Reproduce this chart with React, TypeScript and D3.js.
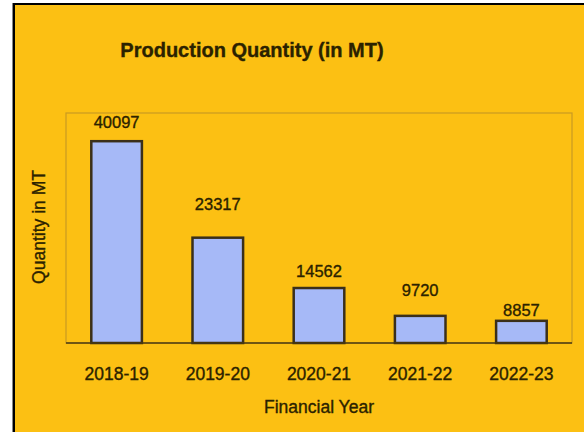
import React from "react";
import * as d3 from "d3";

const categories = ["2018-19", "2019-20", "2020-21", "2021-22", "2022-23"];
const values = [40097, 23317, 14562, 9720, 8857];
const title = "Production Quantity (in MT)";
const xTitle = "Financial Year";
const yTitle = "Quantity in MT";

const W = 584;
const H = 432;
const plot = { left: 66, right: 572, top: 113, bottom: 343 };
// vertical distance (px) from bar top to label centre, as drawn in the reference
const labelLift = [19, 33, 17, 26, 11];

export default function App() {
  const x = d3
    .scaleBand<string>()
    .domain(categories)
    .range([plot.left, plot.right])
    .paddingInner(0.5)
    .paddingOuter(0.25);
  const y = d3.scaleLinear().domain([5000, 45000]).range([plot.bottom, plot.top]);
  const font = "'Liberation Sans', Arial, sans-serif";
  const ink = "#2b2200";
  const textProps = {
    fontFamily: font,
    fill: ink,
    stroke: ink,
    strokeWidth: 0.35,
  };
  return (
    <svg
      width={W}
      height={H}
      style={{ position: "absolute", left: 0, top: 0, display: "block" }}
    >
      <rect x={0} y={0} width={W} height={H} fill="#ffffff" />
      <rect x={14} y={4} width={W - 14} height={H - 4} fill="#fcc013" />
      <line x1={12.5} y1={3} x2={12.5} y2={H} stroke="#888" strokeWidth={1} />
      <line x1={14} y1={3} x2={14} y2={H} stroke="#000" strokeWidth={2} />
      <line x1={13} y1={4} x2={W} y2={4} stroke="#000" strokeWidth={2} />

      <rect
        x={plot.left}
        y={plot.top}
        width={plot.right - plot.left}
        height={plot.bottom - plot.top}
        fill="none"
        stroke="#b38a2a"
        strokeOpacity={0.7}
        strokeWidth={1.2}
      />
      {categories.map((c, i) => (
        <rect
          key={c}
          x={x(c)}
          y={y(values[i])}
          width={x.bandwidth()}
          height={plot.bottom - y(values[i])}
          fill="#a6b9f7"
          stroke="#3a2f1a"
          strokeWidth={2.5}
        />
      ))}
      <line
        x1={plot.left}
        x2={plot.right}
        y1={plot.bottom}
        y2={plot.bottom}
        stroke="#4a3a10"
        strokeWidth={1.3}
      />
      {categories.map((c, i) => (
        <text
          key={"v" + c}
          x={x(c)! + x.bandwidth() / 2}
          y={y(values[i]) - labelLift[i]}
          dy="0.35em"
          textAnchor="middle"
          fontSize={16.5}
          {...textProps}
        >
          {values[i]}
        </text>
      ))}
      {categories.map((c) => (
        <text
          key={"t" + c}
          x={x(c)! + x.bandwidth() / 2}
          y={374}
          dy="0.35em"
          textAnchor="middle"
          fontSize={17.5}
          {...textProps}
        >
          {c}
        </text>
      ))}
      <text
        x={252}
        y={50}
        dy="0.35em"
        textAnchor="middle"
        fontSize={20}
        fontWeight="bold"
        {...textProps}
      >
        {title}
      </text>
      <text
        x={319}
        y={407}
        dy="0.35em"
        textAnchor="middle"
        fontSize={17.5}
        {...textProps}
      >
        {xTitle}
      </text>
      <text
        transform={`translate(39,227) rotate(-90)`}
        dy="0.35em"
        textAnchor="middle"
        fontSize={17.5}
        {...textProps}
      >
        {yTitle}
      </text>
    </svg>
  );
}
